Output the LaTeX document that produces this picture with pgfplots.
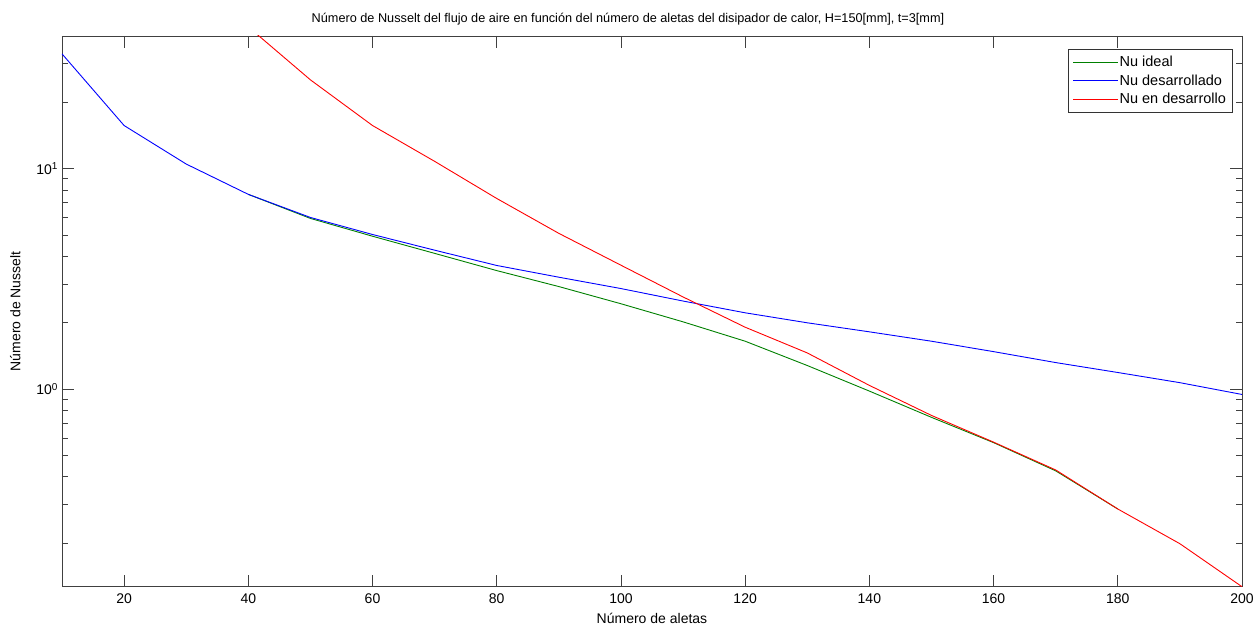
\documentclass[border=0pt]{standalone}
\usepackage{fontspec}
\setmainfont{Liberation Sans}
\usepackage{pgfplots}
\pgfplotsset{compat=1.18}
\definecolor{mgreen}{rgb}{0,0.5,0}
\definecolor{mblue}{rgb}{0,0,1}
\definecolor{mred}{rgb}{1,0,0}
\begin{document}
\begin{tikzpicture}
\useasboundingbox (-62pt,-40.3pt) rectangle (1191pt,586.7pt);
\begin{axis}[
  at={(0pt,0pt)}, anchor=south west,
  scale only axis, width=1180pt, height=550.7pt,
  ymode=log,
  xmin=10, xmax=200, ymin=0.127, ymax=40,
  xtick={20,40,...,200},
  ytick={1,10},
  yticklabels={10\raisebox{0.6ex}{\fontsize{10}{11}\selectfont 0},10\raisebox{0.6ex}{\fontsize{10}{11}\selectfont 1}},
  minor ytick={0.2,0.3,0.4,0.5,0.6,0.7,0.8,0.9,2,3,4,5,6,7,8,9,20,30,40},
  tick pos=both, tick align=inside,
  major tick length=12pt, minor tick length=6pt,
  every tick/.style={black!75, line width=0.8pt},
  axis line style={black!75, line width=0.8pt},
  font=\fontsize{14}{16}\selectfont,
  /pgf/number format/assume math mode=true,
  xticklabel style={yshift=-3pt},
  yticklabel style={xshift=-1pt},
  title={Número de Nusselt del flujo de aire en función del número de aletas del disipador de calor, H=150[mm], t=3[mm]},
  title style={font=\fontsize{12.7}{14}\selectfont, yshift=1pt, xshift=-24pt},
  xlabel={Número de aletas},
  ylabel={Número de Nusselt},
  xlabel style={yshift=-3pt},
  ylabel style={yshift=9pt},
  legend style={at={(1,1)}, anchor=north east, xshift=-9.7pt, yshift=-13pt,
    draw=black!80, line width=0.6pt, font=\fontsize{14.5}{16}\selectfont,
    row sep=2.5pt, inner xsep=4pt, inner ysep=5pt},
  legend cell align=left,
  legend image code/.code={\fill[#1, draw=none] (0pt,-0.6pt) rectangle (45pt,0.6pt);},
  clip=true,
]
\addplot[color=mgreen, line width=0.9pt] coordinates {
(40,7.65) (50,5.95) (60,4.94) (70,4.13) (80,3.45) (90,2.92) (100,2.44) (110,2.02)
(120,1.65) (130,1.28) (140,0.98) (150,0.745) (160,0.572) (170,0.426) (180,0.286)
};
\addlegendentry{Nu ideal}
\addplot[color=mblue, line width=0.9pt] coordinates {
(10,33.2) (20,15.7) (30,10.5) (40,7.65) (50,6.01) (60,5.03) (70,4.27) (80,3.64)
(90,3.22) (100,2.86) (110,2.51) (120,2.22) (130,2.00) (140,1.82) (150,1.65)
(160,1.48) (170,1.32) (180,1.19) (190,1.07) (200,0.946)
};
\addlegendentry{Nu desarrollado}
\addplot[color=mred, line width=0.9pt] coordinates {
(40,44) (50,25.3) (60,15.7) (70,10.8) (80,7.33) (90,5.09) (100,3.65) (110,2.62)
(120,1.91) (130,1.46) (140,1.04) (150,0.76) (160,0.575) (170,0.43) (180,0.286)
(190,0.199) (200,0.127)
};
\addlegendentry{Nu en desarrollo}
\end{axis}
\end{tikzpicture}
\end{document}
